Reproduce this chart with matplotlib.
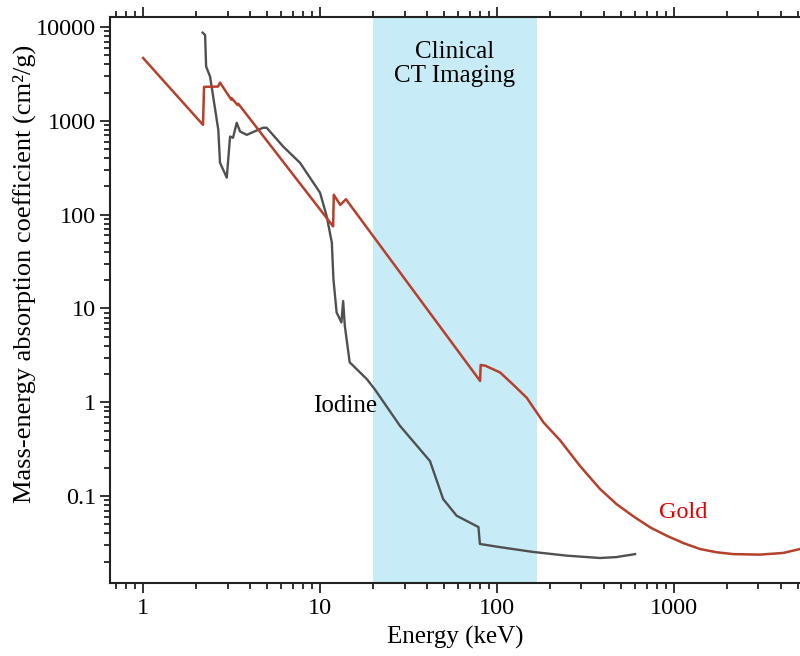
import numpy as np
import matplotlib
matplotlib.use("Agg")
import matplotlib.pyplot as plt
from matplotlib.ticker import LogLocator, FixedLocator, FixedFormatter, NullFormatter

plt.rcParams['font.family'] = ['Liberation Serif', 'DejaVu Serif']

# gold curve (keV, cm^2/g)
gold_E = [1.0, 2.18, 2.21, 2.65, 2.72, 3.15, 3.17, 3.42, 3.45, 11.85, 11.95, 13.0, 14.0,
          80.2, 80.8, 86.0, 104, 123, 147, 183, 227, 294, 382, 474, 587, 732, 910, 1129,
          1403, 1742, 2163, 3060, 4142, 5150]
gold_mu = [4670, 906, 2300, 2318, 2554, 1680, 1740, 1470, 1520, 75, 163, 127, 146,
           1.69, 2.5, 2.45, 2.08, 1.55, 1.12, 0.61, 0.394, 0.21, 0.119, 0.082, 0.0612,
           0.0465, 0.0378, 0.0316, 0.0273, 0.0252, 0.0241, 0.0238, 0.0248, 0.0273]

# iodine curve
iod_E = [2.17, 2.24, 2.27, 2.39, 2.66, 2.72, 2.97, 3.10, 3.22, 3.38, 3.53, 3.85, 4.76,
         4.99, 6.18, 7.70, 10.0, 10.9, 11.65, 11.9, 12.4, 13.2, 13.5, 13.8, 14.7, 18.4,
         20.4, 28.3, 41.8, 49.6, 59.1, 78.5, 80.0, 103.8, 160, 248, 382, 472, 602]
iod_mu = [8700, 8220, 3790, 2960, 801, 357, 248, 680, 659, 952, 769, 709, 844,
          844, 533, 357, 171, 96, 50.4, 20.4, 9.06, 7.1, 12.0, 6.5, 2.67, 1.76,
          1.37, 0.56, 0.236, 0.093, 0.0618, 0.0468, 0.0309, 0.0286, 0.0254, 0.0232,
          0.0219, 0.0224, 0.0241]

ct_range = (20, 168)
x_ticks = [1, 10, 100, 1000]
y_ticks = [0.1, 1, 10, 100, 1000, 10000]

fig = plt.figure(figsize=(8, 6.56), dpi=100)
ax = fig.add_axes([110 / 800, 73 / 656, 690 / 800, 566 / 656])

ax.axvspan(*ct_range, color='#c8ecf7', lw=0, zorder=0)
ax.plot(iod_E, iod_mu, color='#505050', lw=1.7, zorder=2)
ax.plot(gold_E, gold_mu, color='#b5402b', lw=1.8, zorder=3)

ax.set_xscale('log')
ax.set_yscale('log')
ax.set_xlim(0.65, 5150)
ax.set_ylim(0.01186, 12780)

ax.xaxis.set_major_locator(FixedLocator(x_ticks))
ax.xaxis.set_major_formatter(FixedFormatter([str(v) for v in x_ticks]))
ax.xaxis.set_minor_locator(LogLocator(base=10, subs=np.arange(2, 10), numticks=20))
ax.xaxis.set_minor_formatter(NullFormatter())
ax.yaxis.set_major_locator(FixedLocator(y_ticks))
ax.yaxis.set_major_formatter(FixedFormatter(['0.1', '1', '10', '100', '1000', '10000']))
ax.yaxis.set_minor_locator(LogLocator(base=10, subs=np.arange(2, 10), numticks=20))
ax.yaxis.set_minor_formatter(NullFormatter())

ax.tick_params(which='both', direction='out', top=True, right=False,
               color='#222222', width=1.3, labelsize=17.5, pad=3)
ax.tick_params(which='major', length=7)
ax.tick_params(which='minor', length=4.5)
ax.tick_params(axis='x', which='major', pad=4)

for side in ['left', 'bottom', 'top']:
    ax.spines[side].set_linewidth(1.5)
    ax.spines[side].set_color('#222222')
ax.spines['right'].set_visible(False)

ax.set_xlabel('Energy (keV)', fontsize=18, labelpad=5)
ax.set_ylabel('Mass-energy absorption coefficient (cm²/g)', fontsize=19)
ax.yaxis.set_label_coords(-0.107, 0.546)

ax.text(57.9, 4036, 'Clinical\nCT Imaging', ha='center', va='center',
        fontsize=18, linespacing=1.1)
ax.text(13.8, 0.906, 'Iodine', ha='center', va='center', fontsize=18)
ax.text(1125, 0.0676, 'Gold', ha='center', va='center', fontsize=17.5, color='#e00000')

fig.savefig('out.png', dpi=100)
